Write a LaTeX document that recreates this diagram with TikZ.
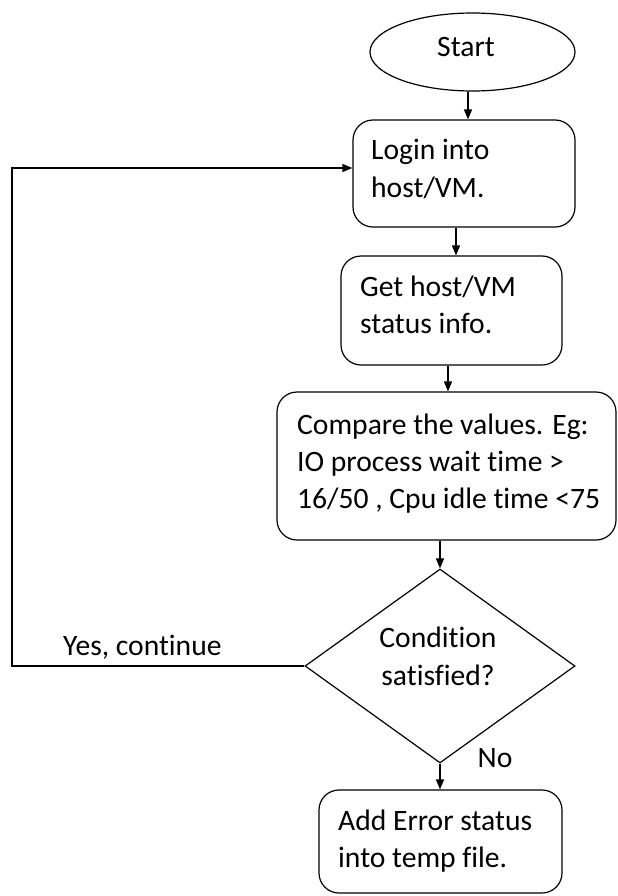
\documentclass[tikz,border=0pt]{standalone}
\usepackage{fontspec}
\setmainfont{Carlito}[RawFeature={-liga}]
\usetikzlibrary{shapes.geometric,arrows.meta,calc}
\begin{document}
\begin{tikzpicture}[x=1bp,y=-1bp,
  every node/.style={font=\fontsize{29.6bp}{37bp}\selectfont},
  shape line/.style={draw=black, line width=1.2bp},
  procbox/.style={shape line, rectangle, rounded corners=20bp, inner sep=0pt},
  txt/.style={inner sep=0pt, anchor=base west, text=black},
  ctxt/.style={inner sep=0pt, anchor=base, text=black},
  flow/.style={line width=1.3bp, -{Triangle[length=10bp,width=8bp]}}]

\useasboundingbox (0,0) rectangle (618,896);

% terminal
\node[shape line, ellipse, minimum width=205bp, minimum height=78bp, inner sep=0pt] (start) at (472.5,52) {};
\node[ctxt] (startlbl) at (466,56) {Start};

% process steps
\node[procbox, minimum width=222bp, minimum height=107bp] (login) at (464,173.5) {};
\node[txt] (login1) at (371,159) {Login into};
\node[txt] (login2) at (371,197) {host/VM.};

\node[procbox, minimum width=221bp, minimum height=109bp] (get) at (451.5,310.5) {};
\node[txt] (get1) at (360,296) {Get host/VM};
\node[txt] (get2) at (360,333) {status info.};

\node[procbox, minimum width=339bp, minimum height=148bp] (cmp) at (446.5,466) {};
\node[txt] (cmp1) at (297,434) {Compare the values. Eg:};
\node[txt] (cmp2) at (297,471) {IO process wait time >};
\node[txt] (cmp3) at (297,508) {16/50 , Cpu idle time <75};

% decision
\node[shape line, diamond, minimum width=270bp, minimum height=194bp, inner sep=0pt] (dec) at (440,666) {};
\node[ctxt] (dec1) at (438,647) {Condition};
\node[ctxt] (dec2) at (438,685) {satisfied?};

% error step
\node[procbox, minimum width=243bp, minimum height=103bp] (add) at (440.5,841.5) {};
\node[txt] (add1) at (338,830) {Add Error status};
\node[txt] (add2) at (338,867) {into temp file.};

% connectors
\draw[flow] ([xshift=-4.5bp]start.south) -- ([xshift=-4.5bp]start.south |- login.north);
\draw[flow] ([xshift=-8bp]login.south) -- ([xshift=-8bp]login.south |- get.north);
\draw[flow] ([xshift=-3.5bp]get.south) -- ([xshift=-3.5bp]get.south |- cmp.north);
\draw[flow] (dec.north |- cmp.south) -- (dec.north);
\draw[flow] (dec.south) -- (dec.south |- add.north);
\coordinate (loopturn) at (12,168);
\draw[flow] (dec.west) -| (loopturn) -- (loopturn -| login.west);

% branch labels
\node[txt] (yes) at (63,655) {Yes, continue};
\node[ctxt] (no) at (495,767) {No};
\end{tikzpicture}
\end{document}
